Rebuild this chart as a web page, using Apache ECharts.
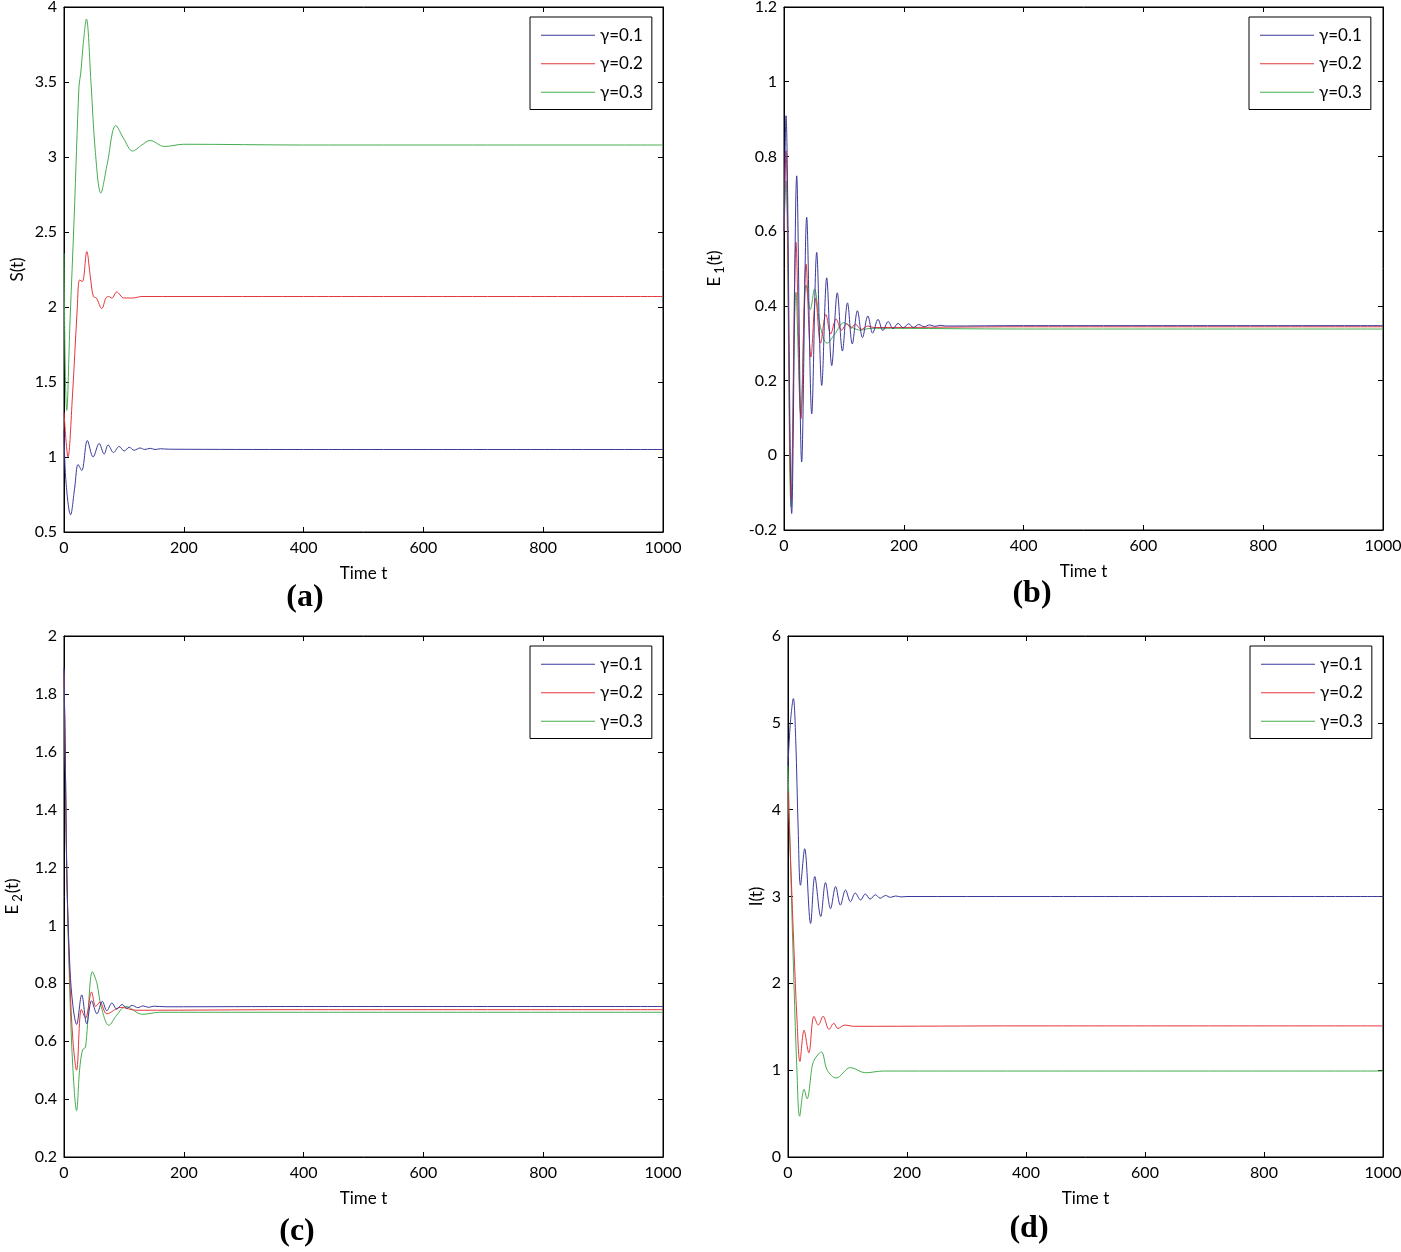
<!DOCTYPE html>
<html>
<head>
<meta charset="utf-8">
<script src="https://cdn.jsdelivr.net/npm/echarts@6/dist/echarts.min.js"></script>
<style>
  html, body { margin: 0; padding: 0; background: #fff; }
  #main { width: 1401px; height: 1252px; }
</style>
</head>
<body>
<div id="main"></div>
<script>
var chartDom = document.getElementById('main');
var myChart = echarts.init(chartDom);
var option;

// legend names
var names = ['γ=0.1', 'γ=0.2', 'γ=0.3'];
var colors = ['#3a3a9c', '#e5363b', '#45ad4f'];

// (a) S(t)
var sBlue = [[0,1.18],[3,0.85],[11,0.615],[18,0.8],[23.5,0.95],[29.6,0.91],[39,1.11],[48.6,1.0],[58.7,1.09],[67,1.02],[73.7,1.08],[82.7,1.03],[92,1.07],[100.6,1.04],[109,1.065],[117,1.045],[127,1.06],[135,1.05],[144,1.058],[152,1.05],[161,1.055],[175,1.052],[400,1.05],[1000,1.05]];
var sRed = [[0,1.3],[6.7,1.0],[14,1.4],[22,1.98],[26,2.18],[30.7,2.17],[38,2.37],[44,2.2],[49,2.07],[54,2.06],[63,1.99],[70,2.06],[74,2.07],[80,2.06],[88,2.1],[100,2.06],[114.5,2.06],[130,2.07],[400,2.07],[1000,2.07]];
var sGreen = [[0,2.36],[2,1.6],[4.5,1.31],[10,1.9],[17,2.6],[25,3.47],[28,3.56],[32,3.75],[37.4,3.92],[45,3.5],[52,3.05],[61.5,2.76],[72,2.95],[86.6,3.21],[100,3.12],[114.5,3.04],[130,3.08],[143.6,3.11],[167.6,3.07],[200,3.085],[400,3.08],[1000,3.08]];

// (b) E1(t)
var e1Blue = [[0,0.6],[3.3,0.909],[12.8,-0.156],[21.2,0.748],[29.5,-0.018],[37.9,0.637],[46.3,0.111],[54.6,0.543],[63,0.187],[71.3,0.475],[79.7,0.24],[89,0.435],[97.5,0.279],[106,0.408],[114,0.298],[122.6,0.387],[131,0.315],[140,0.373],[148,0.327],[157,0.364],[165,0.334],[174,0.358],[182,0.339],[190.5,0.353],[199,0.341],[208,0.352],[216,0.342],[225,0.35],[234,0.344],[243,0.349],[252,0.345],[261,0.348],[270,0.346],[400,0.347],[1000,0.347]];
var e1Red = [[0,0.6],[3.3,0.815],[12,-0.12],[20,0.57],[28.4,0.098],[36.8,0.512],[45,0.263],[53,0.42],[61,0.3],[70,0.377],[78,0.325],[87,0.365],[96,0.335],[105,0.352],[112,0.34],[119,0.351],[129,0.337],[140,0.346],[150,0.342],[400,0.344],[1000,0.344]];
var e1Green = [[0,0.6],[3.3,0.735],[11.7,-0.138],[20,0.436],[28,0.11],[37,0.456],[44,0.39],[51,0.445],[60,0.35],[72,0.3],[85,0.325],[100,0.355],[114,0.342],[128,0.335],[145,0.34],[400,0.338],[1000,0.338]];

// (c) E2(t)
var e2Blue = [[0,1.89],[2,1.6],[5,1.15],[10,0.85],[15,0.72],[21,0.658],[29.6,0.76],[38,0.66],[46,0.74],[55,0.695],[64,0.738],[71.5,0.705],[80,0.732],[88,0.711],[97,0.727],[105,0.714],[114,0.724],[123,0.716],[132,0.722],[141,0.717],[150,0.721],[170,0.719],[400,0.72],[1000,0.72]];
var e2Red = [[0,1.88],[2,1.6],[5,1.15],[10,0.8],[15,0.6],[21,0.5],[29,0.71],[36,0.68],[46,0.77],[53,0.72],[60,0.735],[71.5,0.695],[95,0.717],[120,0.707],[400,0.709],[1000,0.709]];
var e2Green = [[0,1.87],[2,1.6],[5,1.15],[10,0.75],[15,0.5],[21,0.36],[26,0.5],[31,0.57],[36,0.58],[47.5,0.84],[55,0.8],[62,0.72],[75,0.655],[88,0.69],[103,0.72],[131,0.693],[160,0.7],[400,0.7],[1000,0.7]];

// (d) I(t)
var iBlue = [[0,4.51],[4,5.0],[9,5.28],[13,4.8],[17,3.8],[21,3.13],[28,3.55],[38,2.69],[45,3.23],[55,2.77],[63,3.16],[71.5,2.86],[80,3.115],[88,2.9],[96.7,3.075],[105,2.94],[113,3.04],[122,2.96],[130,3.03],[138,2.97],[147,3.02],[155,2.98],[164,3.012],[172,2.99],[181,3.006],[190,2.995],[200,3.0],[400,3.0],[1000,3.0]];
var iRed = [[0,4.2],[5,3.3],[10,2.4],[15,1.6],[20,1.1],[27,1.46],[35,1.2],[43.6,1.62],[51,1.52],[59,1.62],[69,1.47],[77,1.54],[84,1.48],[95.5,1.52],[110,1.505],[400,1.51],[1000,1.51]];
var iGreen = [[0,4.51],[5,3.2],[10,2.0],[15,1.0],[19.5,0.47],[27,0.78],[32,0.67],[41,1.06],[46,1.14],[56,1.21],[66,1.0],[81,0.91],[105,1.03],[130,0.97],[160,0.99],[400,0.99],[1000,0.99]];

// y ranges [min, max, interval]
var sRange = [0.5, 4, 0.5];
var e1Range = [-0.2, 1.2, 0.2];
var e2Range = [0.2, 2, 0.2];
var iRange = [0, 6, 1];

var font = 'Lato';
var panels = [
  { grid: { left: 64, top: 7, width: 599, height: 525 }, range: sRange, yName: 'S(t)', yGap: 38, xGap: 33, data: [sBlue, sRed, sGreen], legend: { left: 530, top: 17 }, tag: '(a)', tagPos: [305, 598] },
  { grid: { left: 784, top: 7, width: 599, height: 523 }, range: e1Range, yName: '{m|E}{s|1}{m|(t)}', yGap: 58, xGap: 33, data: [e1Blue, e1Red, e1Green], legend: { left: 1249, top: 17 }, tag: '(b)', tagPos: [1032, 594] },
  { grid: { left: 64, top: 636, width: 599, height: 521 }, range: e2Range, yName: '{m|E}{s|2}{m|(t)}', yGap: 40, xGap: 33, data: [e2Blue, e2Red, e2Green], legend: { left: 530, top: 646 }, tag: '(c)', tagPos: [297, 1232] },
  { grid: { left: 788, top: 636, width: 595, height: 521 }, range: iRange, yName: 'I(t)', yGap: 23, xGap: 33, data: [iBlue, iRed, iGreen], legend: { left: 1250, top: 646 }, tag: '(d)', tagPos: [1029, 1229] }
];

var tickStyle = { show: true, inside: true, length: 5, lineStyle: { color: '#000', width: 1 } };
var lineAx = { show: true, onZero: false, lineStyle: { color: '#000', width: 1 } };
var labelStyle = { color: '#000', fontSize: 16, fontFamily: font, formatter: function (v) { return String(+v.toFixed(2)); } };

var grids = [], xAxes = [], yAxes = [], legends = [], series = [], graphics = [];
panels.forEach(function (p, i) {
  grids.push(Object.assign({ show: true, borderColor: '#000', borderWidth: 1, backgroundColor: '#fff', containLabel: false, outerBoundsMode: 'none' }, p.grid));
  xAxes.push({
    type: 'value', gridIndex: i, min: 0, max: 1000, interval: 200,
    axisLine: lineAx, axisTick: tickStyle, splitLine: { show: false },
    axisLabel: Object.assign({ margin: 8 }, labelStyle),
    name: 'Time t', nameLocation: 'middle', nameGap: p.xGap,
    nameTextStyle: { color: '#000', fontSize: 17, fontFamily: font }
  });
  yAxes.push({
    type: 'value', gridIndex: i, min: p.range[0], max: p.range[1], interval: p.range[2],
    axisLine: lineAx, axisTick: tickStyle, splitLine: { show: false },
    axisLabel: Object.assign({ margin: 7 }, labelStyle),
    name: p.yName, nameLocation: 'middle', nameRotate: 90, nameGap: p.yGap,
    nameTextStyle: {
      color: '#000', fontSize: 17, fontFamily: font,
      rich: {
        m: { fontSize: 17, fontFamily: font, color: '#000' },
        s: { fontSize: 13, fontFamily: font, color: '#000', padding: [9, 1, 0, 3] }
      }
    }
  });
  legends.push({
    data: names, orient: 'vertical', left: p.legend.left, top: p.legend.top,
    icon: 'rect', itemWidth: 54, itemHeight: 1.2, itemGap: 10, padding: [9, 9, 8, 11],
    borderColor: '#000', borderWidth: 1, backgroundColor: '#fff', borderRadius: 0,
    textStyle: { color: '#000', fontSize: 17, fontFamily: font, lineHeight: 18.5 },
    selectedMode: false
  });
  p.data.forEach(function (d, k) {
    series.push({
      type: 'line', name: names[k], xAxisIndex: i, yAxisIndex: i,
      data: d, smooth: 0.35, symbol: 'none', showSymbol: false,
      lineStyle: { color: colors[k], width: 1 }, itemStyle: { color: colors[k] },
      z: 3 - k
    });
  });
  graphics.push({
    type: 'text', x: p.tagPos[0], y: p.tagPos[1],
    style: { text: p.tag, fill: '#000', font: 'bold 32px "Liberation Serif"', textAlign: 'center', textVerticalAlign: 'middle' }
  });
});
// mirrored box ticks on top and right
panels.forEach(function (p, i) {
  xAxes.push({
    type: 'value', gridIndex: i, position: 'top', min: 0, max: 1000, interval: 200,
    axisLine: lineAx, axisTick: tickStyle, axisLabel: { show: false }, splitLine: { show: false }
  });
  yAxes.push({
    type: 'value', gridIndex: i, position: 'right', min: p.range[0], max: p.range[1], interval: p.range[2],
    axisLine: lineAx, axisTick: tickStyle, axisLabel: { show: false }, splitLine: { show: false }
  });
});

option = {
  backgroundColor: '#fff',
  animation: false,
  grid: grids,
  xAxis: xAxes,
  yAxis: yAxes,
  legend: legends,
  series: series,
  graphic: graphics
};

if (chartDom && myChart) {
  myChart.setOption(option);
} else {
  console.error('Failed to initialize the chart');
}
</script>
</body>
</html>
